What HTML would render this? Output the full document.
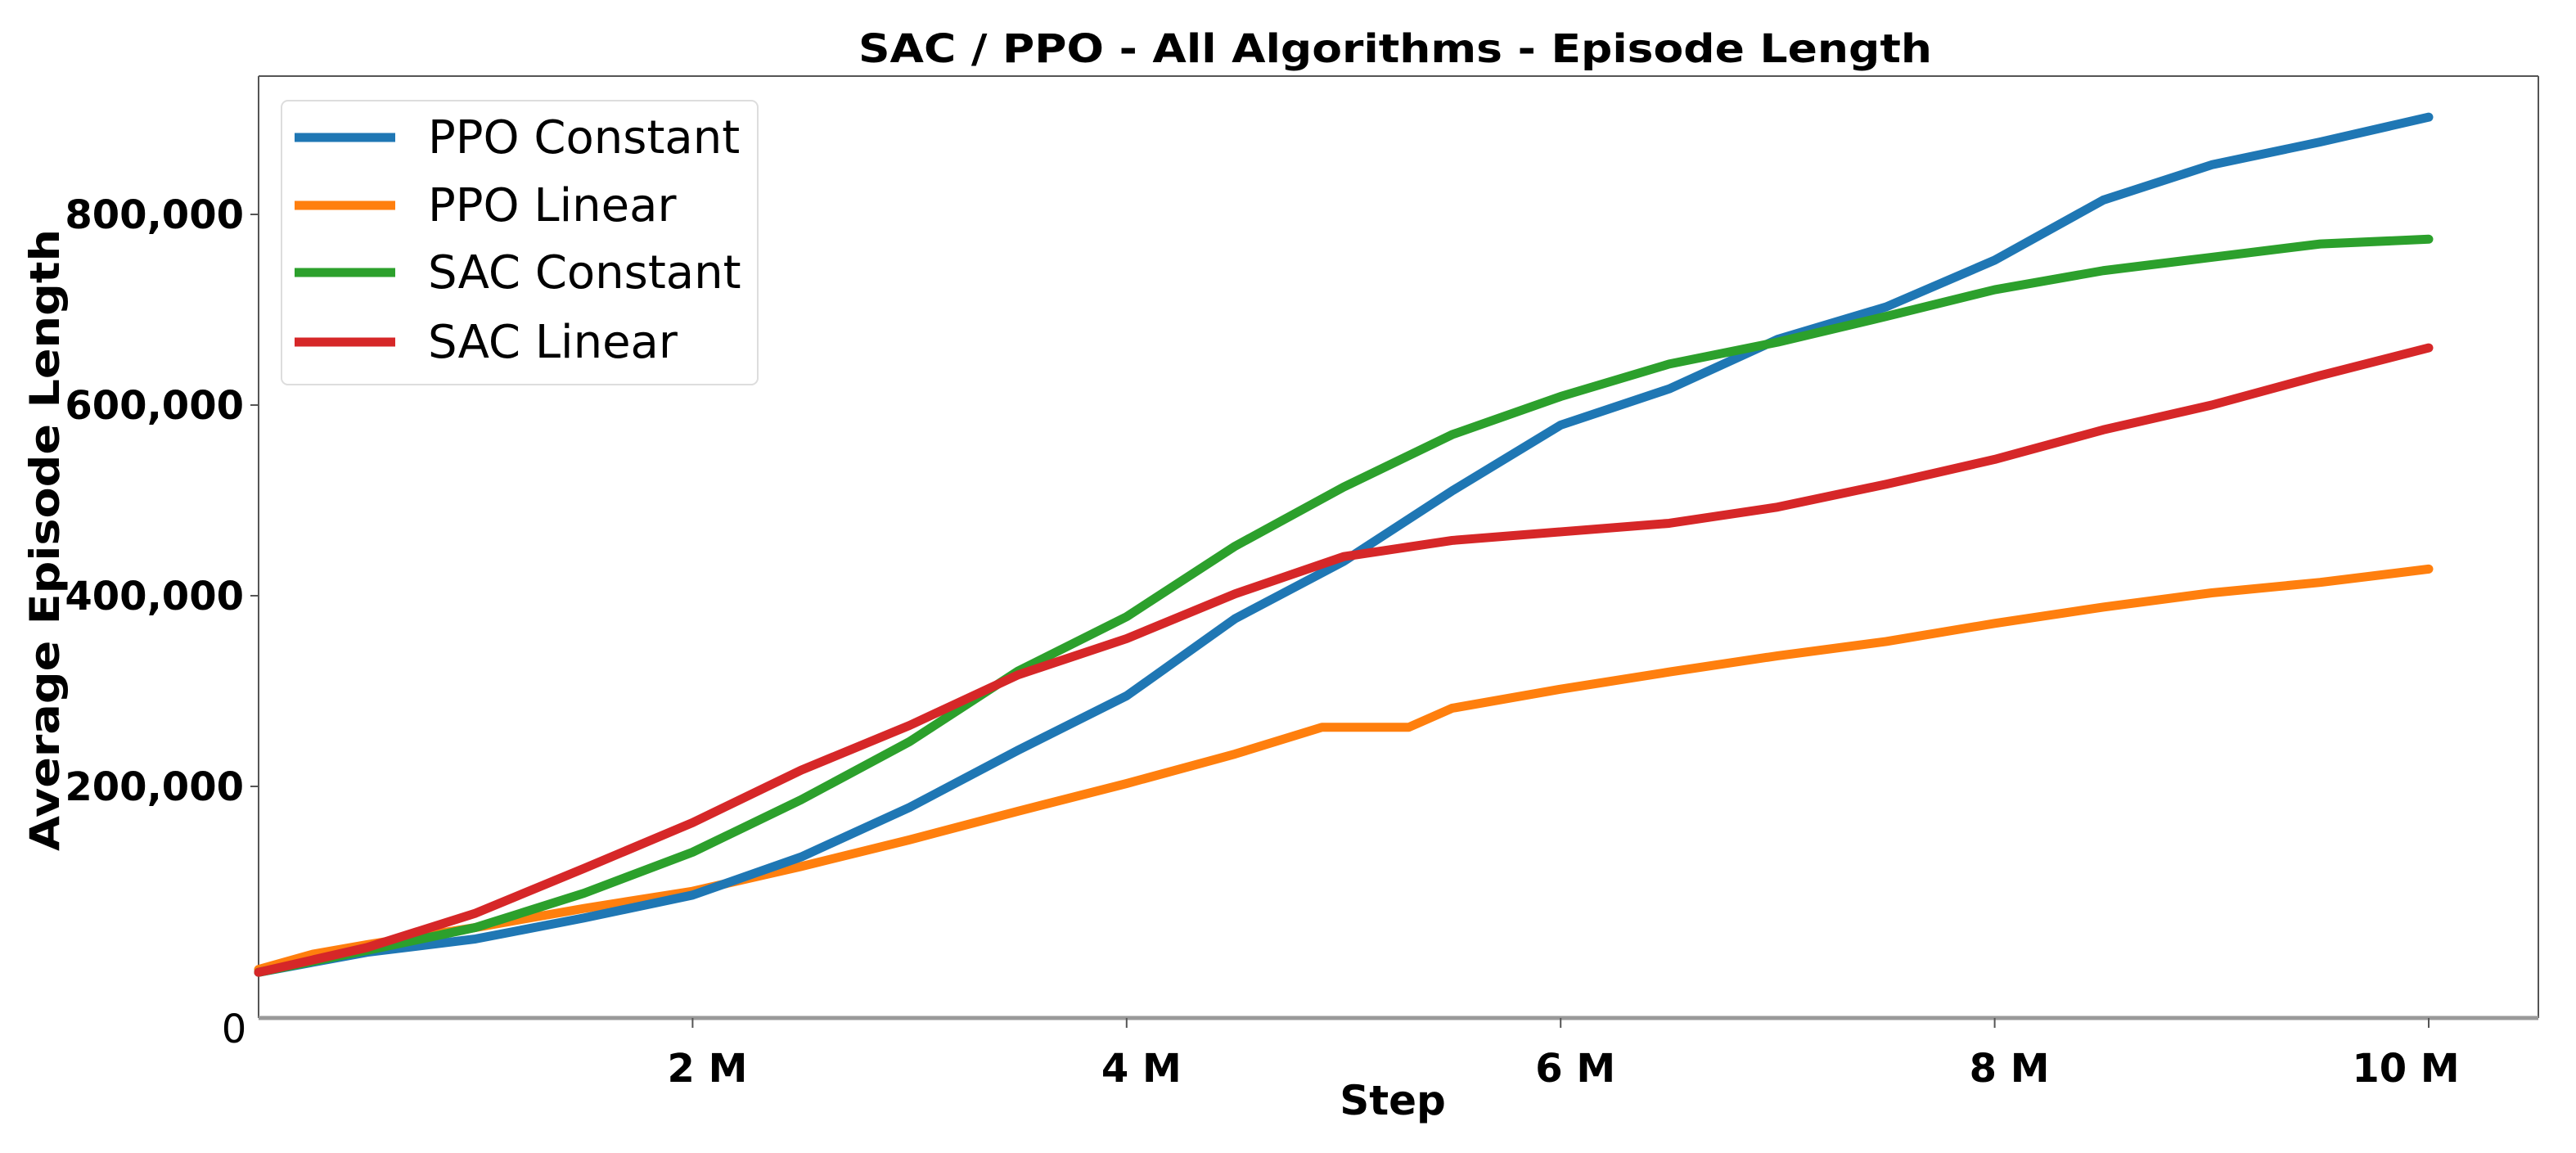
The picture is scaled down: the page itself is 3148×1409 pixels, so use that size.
<!DOCTYPE html>
<html><head><meta charset="utf-8"><style>
html,body{margin:0;padding:0;background:#fff}
svg{display:block}
text{font-family:"DejaVu Sans","Liberation Sans",sans-serif}
</style></head><body>
<svg id="chart" width="3148" height="1409" viewBox="0 0 3148 1409" xmlns="http://www.w3.org/2000/svg">
<rect width="3148" height="1409" fill="#fff"/>
<text x="1705" y="76" text-anchor="middle" font-size="48" font-weight="bold" textLength="1312" lengthAdjust="spacingAndGlyphs">SAC / PPO - All Algorithms - Episode Length</text>
<g id="frame">
<line x1="316" y1="93" x2="3102" y2="93" stroke="#555" stroke-width="2"/>
<line x1="316" y1="93" x2="316" y2="1244" stroke="#555" stroke-width="2"/>
<line x1="3102" y1="93" x2="3102" y2="1244" stroke="#555" stroke-width="2"/>
<line x1="316" y1="1244" x2="3102" y2="1244" stroke="#999" stroke-width="5"/>
</g>
<g id="xticks"></g>
<g id="yticks"></g>
<text x="286" y="1274" text-anchor="middle" font-size="48">0</text>
<text x="1702" y="1362" text-anchor="middle" font-size="50" font-weight="bold">Step</text>
<text transform="translate(72,660) rotate(-90)" text-anchor="middle" font-size="50" font-weight="bold" textLength="760" lengthAdjust="spacingAndGlyphs">Average Episode Length</text>
<g id="series"></g>
<g>
<rect x="344" y="123" width="582" height="347" rx="8" fill="#fff" stroke="#ddd" stroke-width="2"/>
<g><line x1="360" y1="168" x2="483" y2="168" stroke="#1f77b4" stroke-width="11"/><text x="523" y="187" font-size="56">PPO Constant</text></g>
<g><line x1="360" y1="251" x2="483" y2="251" stroke="#ff7f0e" stroke-width="11"/><text x="523" y="270" font-size="56">PPO Linear</text></g>
<g><line x1="360" y1="333" x2="483" y2="333" stroke="#2ca02c" stroke-width="11"/><text x="523" y="352" font-size="56">SAC Constant</text></g>
<g><line x1="360" y1="418" x2="483" y2="418" stroke="#d62728" stroke-width="11"/><text x="523" y="437" font-size="56">SAC Linear</text></g>
</g>
</svg>
<script>
const steps = [0,0.5,1,1.5,2,2.5,3,3.5,4,4.5,5,5.5,6,6.5,7,7.5,8,8.5,9,9.5,10];
const stepsOrange = [0,0.25,0.5,1,1.5,2,2.5,3,3.5,4,4.5,4.9,5,5.3,5.5,6,6.5,7,7.5,8,8.5,9,9.5,10];
const ppoConstant = [5,26,40,62,86,126,178,238,295,376,436,510,579,617,669,703,752,815,852,876,902];
const ppoLinear = [8,24,34,52,72,90,116,144,174,203,234,262,262,262,282,302,320,337,352,371,388,403,414,428];
const sacConstant = [5,28,52,88,131,186,247,321,378,452,514,569,609,643,666,693,721,741,755,769,774];
const sacLinear = [5,31,67,114,162,217,264,317,355,402,441,458,467,476,493,517,543,574,600,631,660];
const xTickValues = [2,4,6,8,10];
const xTickLabels = ["2 M","4 M","6 M","8 M","10 M"];
const yTickValues = [200,400,600,800];
const yTickLabels = ["200,000","400,000","600,000","800,000"];
const NS="http://www.w3.org/2000/svg";
function xs(v){return 316+v*265.2;}
function ys(v){return 1194-v*233/200;}
const xt=document.getElementById('xticks');
xTickValues.forEach((v,i)=>{
  const l=document.createElementNS(NS,'line');
  
  
  l.setAttribute('x1',xs(v));l.setAttribute('x2',xs(v));l.setAttribute('y1',1244);l.setAttribute('y2',1256);
  l.setAttribute('stroke','#555');l.setAttribute('stroke-width','2');xt.appendChild(l);
  const t=document.createElementNS(NS,'text');
  
  
  t.setAttribute('x',xs(v)+(i==4?-28:18));t.setAttribute('y',1322);t.setAttribute('text-anchor','middle');
  t.setAttribute('font-size','48');t.setAttribute('font-weight','bold');t.textContent=xTickLabels[i];xt.appendChild(t);
});
const yt=document.getElementById('yticks');
yTickValues.forEach((v,i)=>{
  const l=document.createElementNS(NS,'line');
  
  
  l.setAttribute('x1',306);l.setAttribute('x2',316);l.setAttribute('y1',ys(v));l.setAttribute('y2',ys(v));
  l.setAttribute('stroke','#555');l.setAttribute('stroke-width','2');yt.appendChild(l);
  const t=document.createElementNS(NS,'text');
  
  
  t.setAttribute('x',298);t.setAttribute('y',ys(v)+17);t.setAttribute('text-anchor','end');
  t.setAttribute('font-size','48');t.setAttribute('font-weight','bold');t.textContent=yTickLabels[i];yt.appendChild(t);
});
const sg=document.getElementById('series');
[[ppoLinear,'#ff7f0e','ppo-linear-line',stepsOrange],[ppoConstant,'#1f77b4','ppo-constant-line',steps],[sacConstant,'#2ca02c','sac-constant-line',steps],[sacLinear,'#d62728','sac-linear-line',steps]].forEach(s=>{
  const p=document.createElementNS(NS,'polyline');
  
  
  p.setAttribute('points',s[3].map((x,i)=>xs(x)+','+ys(s[0][i])).join(' '));
  p.setAttribute('fill','none');p.setAttribute('stroke',s[1]);p.setAttribute('stroke-width','11');
  p.setAttribute('stroke-linejoin','round');p.setAttribute('stroke-linecap','round');
  sg.appendChild(p);
});
</script>
</body></html>
